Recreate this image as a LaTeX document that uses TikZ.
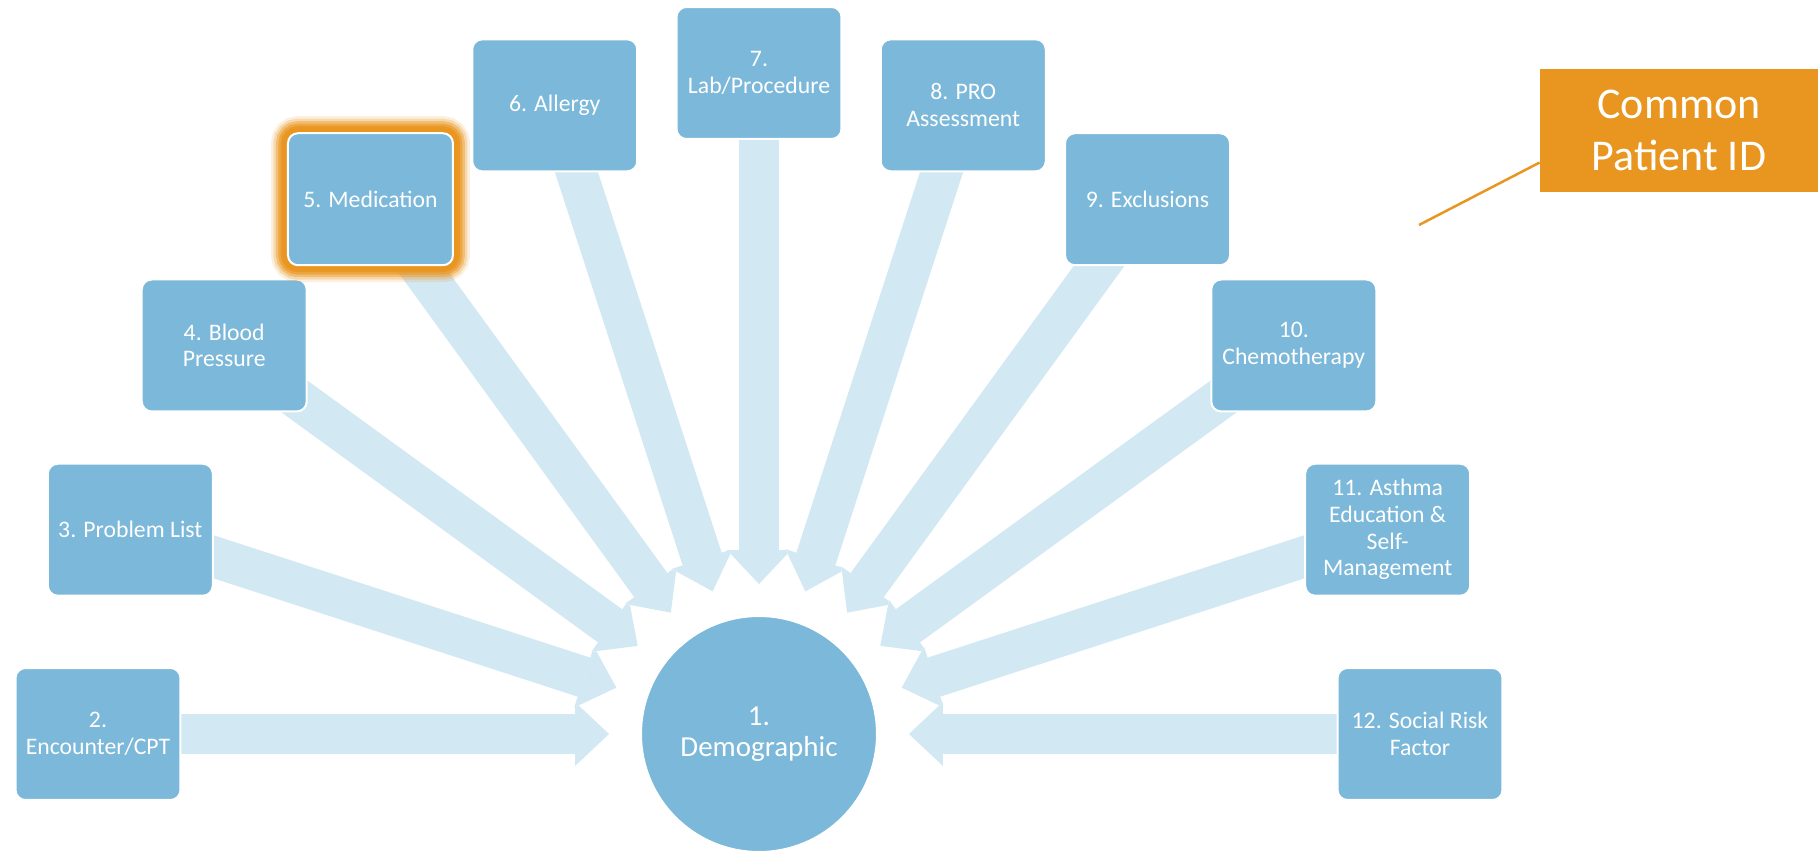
\documentclass[tikz,border=0pt]{standalone}
\usepackage{fontspec}
\setmainfont{Carlito}
\usetikzlibrary{arrows.meta,calc,backgrounds}
\definecolor{boxblue}{RGB}{123,184,217}
\definecolor{arrowblue}{RGB}{210,232,243}
\definecolor{idorange}{RGB}{233,150,32}
\tikzset{
  % Specifications for style of nodes:
  base/.style = {
    rectangle,
    rounded corners=0.2cm,
    draw=white,
    line width=0.04cm,
    fill=boxblue,
    text=white,
    align=center,
    inner sep=0pt
  },
  source/.style = {
    base,
    minimum width=3.3cm,
    minimum height=2.64cm,
    font=\fontsize{13.5}{15.2}\selectfont
  },
  hub/.style = {
    base,
    circle,
    minimum size=4.72cm,
    font=\fontsize{16.5}{17.5}\selectfont
  },
  glow/.style = {
    preaction={draw=idorange, draw opacity=0.15, line width=0.68cm},
    preaction={draw=idorange, draw opacity=0.25, line width=0.58cm},
    preaction={draw=idorange, draw opacity=0.4, line width=0.48cm},
    preaction={draw=idorange, draw opacity=0.6, line width=0.38cm},
    preaction={draw=idorange, draw opacity=0.85, line width=0.28cm},
    preaction={draw=idorange, line width=0.2cm}
  },
  tag/.style = {
    rectangle,
    fill=idorange,
    text=white,
    align=center,
    minimum width=5.56cm,
    minimum height=2.46cm,
    font=\fontsize{25}{30}\selectfont
  },
  % Specifications for style of arrows:
  feed/.style = {
    draw=arrowblue,
    line width=0.82cm,
    -{Triangle[width=1.28cm,length=0.68cm,line width=0pt]}
  },
  feededge/.style = {
    draw=white,
    line width=0.9cm,
    -{Triangle[width=1.4cm,length=0.74cm,line width=0pt]}
  },
  pointer/.style = {
    draw=idorange,
    line width=0.05cm
  },
}

\begin{document}
\begin{tikzpicture}[x=0.02cm, y=0.02cm]
    \useasboundingbox (-759,-118) rectangle (1059,734);
    % Specification of nodes (position, etc.)
    \node[hub]           (demo)    at (0,0)      {1.\\Demographic};
    \node[source]        (enc)     at (180:661)  {2.\\Encounter/CPT};
    \node[source]        (prob)    at (162:661)  {3. Problem List};
    \node[source]        (bp)      at (144:661)  {4. Blood\\Pressure};
    \node[source, glow]  (med)     at (126:661)  {5. Medication};
    \node[source]        (allergy) at (108:661)  {6. Allergy};
    \node[source]        (lab)     at (90:661)   {7.\\Lab/Procedure};
    \node[source]        (pro)     at (72:661)   {8. PRO\\Assessment};
    \node[source]        (excl)    at (54:661)   {9. Exclusions};
    \node[source]        (chemo)   at (36:661)   {10.\\Chemotherapy};
    \node[source]        (asthma)  at (18:661)   {11. Asthma\\Education \&\\Self-\\Management};
    \node[source]        (social)  at (0:661)    {12. Social Risk\\Factor};
    \node[tag]           (pid)     at (920,603.5) {Common\\Patient ID};
    \coordinate (pidtail) at (660,509);

    % Arrows into the hub
    \begin{scope}[on background layer]
      \foreach \b in {enc,prob,bp,med,allergy,lab,pro,excl,chemo,asthma,social} {
        \draw[feededge] (\b.center) -- ($(demo.center)!3cm!(\b.center)$);
        \draw[feed]     (\b.center) -- ($(demo.center)!3cm!(\b.center)$);
      }
    \end{scope}
    \draw[pointer] (pidtail) -- ([yshift=-0.64cm]pid.west);
\end{tikzpicture}
\end{document}
